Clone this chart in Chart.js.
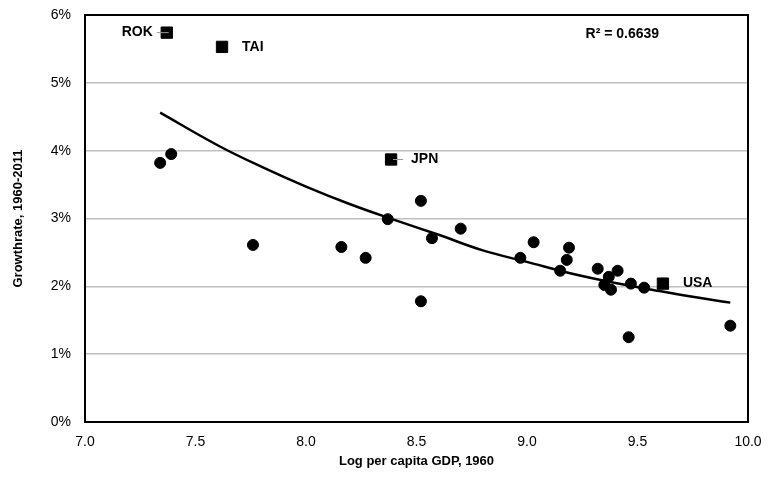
<!DOCTYPE html>
<html>
<head>
<meta charset="utf-8">
<script src="https://cdn.jsdelivr.net/npm/chart.js@4/dist/chart.umd.min.js"></script>
<style>
    html, body { margin: 0; padding: 0; background: #fff; }
    #wrap { width: 768px; height: 497px; }
</style>
</head>
<body>
<div id="wrap"><canvas id="chart"></canvas></div>
<script>
// Unlabelled countries: log per capita GDP 1960 vs growth rate (%)
const dotX = [7.34, 7.39, 7.76, 8.16, 8.27, 8.37, 8.52, 8.57, 8.52, 8.70, 8.97, 9.03,
              9.15, 9.18, 9.19, 9.32, 9.35, 9.37, 9.38, 9.41, 9.47, 9.46, 9.53, 9.92];
const dotY = [3.82, 3.95, 2.61, 2.58, 2.42, 2.99, 3.26, 2.71, 1.78, 2.85, 2.42, 2.65,
              2.23, 2.39, 2.57, 2.26, 2.02, 2.14, 1.95, 2.23, 2.04, 1.25, 1.98, 1.42];

// Labelled countries (square markers)
const namedCountries = ['ROK', 'TAI', 'JPN', 'USA'];
const namedX = [7.37, 7.62, 8.385, 9.615];
const namedY = [5.74, 5.53, 3.87, 2.04];

// Trend line
const trendX = [7.34, 7.6, 7.8, 8.0, 8.2, 8.4, 8.6, 8.8, 9.0, 9.2, 9.4, 9.6, 9.8, 9.92];
const trendY = [4.56, 4.08, 3.76, 3.47, 3.21, 2.98, 2.76, 2.53, 2.36, 2.19, 2.05, 1.93, 1.82, 1.76];

const xTicks = [7.0, 7.5, 8.0, 8.5, 9.0, 9.5, 10.0];
const yTicks = [0, 1, 2, 3, 4, 5, 6];
const rSquaredText = 'R\u00b2 = 0.6639';

const FONT = '"Liberation Sans", Arial, sans-serif';

const toPoints = (xs, ys) => xs.map((x, i) => ({ x, y: ys[i] }));

const frameAndLabels = {
    id: 'frameAndLabels',
    beforeDatasetsDraw(chart) {
        const { ctx, chartArea: a } = chart;
        ctx.save();
        ctx.strokeStyle = '#000';
        ctx.lineWidth = 2;
        ctx.strokeRect(a.left, a.top, a.right - a.left, a.bottom - a.top);
        ctx.restore();
    },
    afterDatasetsDraw(chart) {
        const { ctx, scales } = chart;
        const meta = chart.getDatasetMeta(2);
        ctx.save();
        ctx.font = 'bold 14px ' + FONT;
        ctx.fillStyle = '#000';
        ctx.textBaseline = 'middle';
        meta.data.forEach((pt, i) => {
            const name = namedCountries[i];
            if (name === 'ROK') {
                ctx.strokeStyle = '#999';
                ctx.lineWidth = 1;
                ctx.beginPath();
                ctx.moveTo(pt.x - 10, pt.y);
                ctx.lineTo(pt.x + 2, pt.y);
                ctx.stroke();
                ctx.textAlign = 'right';
                ctx.fillText(name, pt.x - 14, pt.y);
            } else {
                if (name === 'JPN') {
                    ctx.strokeStyle = '#999';
                    ctx.lineWidth = 1;
                    ctx.beginPath();
                    ctx.moveTo(pt.x + 2, pt.y);
                    ctx.lineTo(pt.x + 12, pt.y);
                    ctx.stroke();
                }
                ctx.textAlign = 'left';
                ctx.fillText(name, pt.x + 20, pt.y);
            }
        });
        ctx.textAlign = 'left';
        ctx.fillText(rSquaredText, scales.x.getPixelForValue(9.265), scales.y.getPixelForValue(5.72));
        ctx.restore();
    }
};

new Chart(document.getElementById('chart'), {
    type: 'scatter',
    data: {
        datasets: [
            {
                label: 'Trend',
                type: 'line',
                data: toPoints(trendX, trendY),
                borderColor: '#000',
                borderWidth: 2.5,
                pointRadius: 0,
                tension: 0.4,
                fill: false
            },
            {
                label: 'Countries',
                data: toPoints(dotX, dotY),
                backgroundColor: '#000',
                borderColor: '#000',
                pointRadius: 5.5,
                pointStyle: 'circle'
            },
            {
                label: 'Named',
                data: toPoints(namedX, namedY),
                backgroundColor: '#000',
                borderColor: '#000',
                pointRadius: 8,
                pointStyle: 'rect'
            }
        ]
    },
    options: {
        responsive: true,
        maintainAspectRatio: false,
        animation: false,
        layout: { padding: { top: 15, right: 20, left: 7, bottom: 24 } },
        plugins: {
            legend: { display: false },
            tooltip: { enabled: false }
        },
        scales: {
            x: {
                type: 'linear',
                min: 7,
                max: 10,
                afterBuildTicks: axis => { axis.ticks = xTicks.map(v => ({ value: v })); },
                grid: { display: false, drawTicks: false },
                border: { display: false },
                ticks: {
                    padding: 12,
                    color: '#000',
                    font: { family: FONT, size: 14 },
                    callback: v => Number(v).toFixed(1)
                },
                title: {
                    display: true,
                    text: 'Log per capita GDP, 1960',
                    color: '#000',
                    font: { family: FONT, size: 13, weight: 'bold' },
                    padding: { top: 0 }
                },
                afterFit: axis => {
                    axis.height = 51;
                    axis.paddingLeft = 0;
                    axis.paddingRight = 0;
                }
            },
            y: {
                min: 0,
                max: 6,
                afterBuildTicks: axis => { axis.ticks = yTicks.map(v => ({ value: v })); },
                grid: { color: '#c0c0c0', lineWidth: 1.5, drawTicks: false },
                border: { display: false },
                ticks: {
                    padding: 14,
                    color: '#000',
                    font: { family: FONT, size: 14 },
                    callback: v => v + '%'
                },
                title: {
                    display: true,
                    text: 'Growthrate, 1960-2011',
                    color: '#000',
                    font: { family: FONT, size: 13, weight: 'bold' },
                    padding: { bottom: 4 }
                },
                afterFit: axis => {
                    axis.width = 78;
                    axis.paddingTop = 0;
                    axis.paddingBottom = 0;
                }
            }
        }
    },
    plugins: [frameAndLabels]
});
</script>
</body>
</html>
